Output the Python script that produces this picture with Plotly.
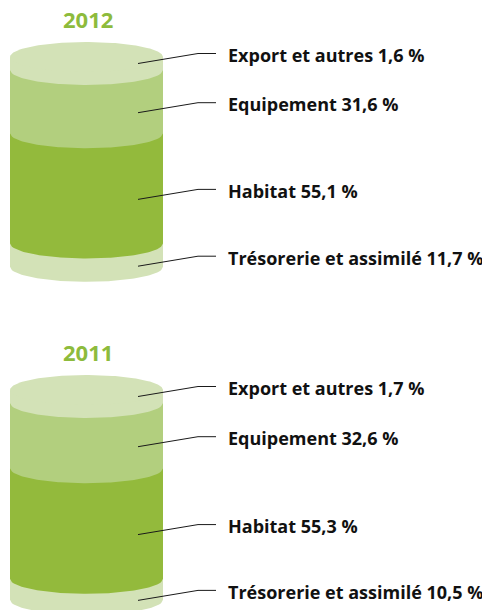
import numpy as np
import plotly.graph_objects as go

# ---------------- data ----------------
years = ["2012", "2011"]
categories = ["Trésorerie et assimilé", "Habitat", "Equipement", "Export et autres"]  # bottom -> top
values_2012 = [11.7, 55.1, 31.6, 1.6]
values_2011 = [10.5, 55.3, 32.6, 1.7]
series = [values_2012, values_2011]

colors = ["#d3e2b7", "#93ba3c", "#b2cf7e", "#d3e2b7"]
title_color = "#8dbb3c"

# ---------------- layout constants ----------------
W, H = 482, 610
PX_PER_UNIT = 2.0
MIN_SHOW = 6.5            # minimum displayed thickness for a very small segment
CX, RX = 86.5, 76.5       # cylinder centre / half width (x axis units = px)
RY = 7.5                  # ellipse half height (y units)
TOP_PX = [57, 390]        # pixel row of top edge of each cylinder side
LEADER_X0, ELBOW_X, LINE_END_X, TEXT_X = 138, 198, 216, 226

fig = go.Figure()


def front_arc(u, n=80, reverse=False):
    xs = np.linspace(CX - RX, CX + RX, n)
    t = (xs - CX) / RX
    ys = u - RY * np.sqrt(np.clip(1 - t ** 2, 0, 1))
    if reverse:
        return xs[::-1], ys[::-1]
    return xs, ys


annotations = []
for k, (year, vals) in enumerate(zip(years, series)):
    yref = "y" if k == 0 else "y2"
    shown = [max(v, MIN_SHOW) for v in vals]
    total = sum(shown)
    bounds = np.concatenate([[0], np.cumsum(shown)])
    n = len(vals)
    for i in range(n):
        u0, u1 = bounds[i], bounds[i + 1]
        ext = 0.6
        xa, ya = front_arc(u0)
        xb, yb = front_arc(u1 + ext, reverse=True)
        xs = np.concatenate([xa, xb, [xa[0]]])
        ys = np.concatenate([ya, yb, [ya[0]]])
        fig.add_trace(go.Scatter(x=xs, y=ys, mode="lines", fill="toself",
                                 fillcolor=colors[i], line=dict(width=0, color=colors[i]),
                                 hoverinfo="skip", showlegend=False, yaxis=yref))
    th = np.linspace(0, 2 * np.pi, 160)
    fig.add_trace(go.Scatter(x=CX + RX * np.cos(th), y=total + RY * np.sin(th),
                             mode="lines", fill="toself", fillcolor=colors[-1],
                             line=dict(width=0, color=colors[-1]),
                             hoverinfo="skip", showlegend=False, yaxis=yref))
    t = (LEADER_X0 - CX) / RX
    dy = RY * np.sqrt(1 - t ** 2)
    for i in range(n):
        u0, u1 = bounds[i], bounds[i + 1]
        lo = u0 - dy
        hi = u1 + dy if i == n - 1 else u1 - dy
        mid = (lo + hi) / 2
        elbow = mid + 5
        fig.add_trace(go.Scatter(x=[LEADER_X0, ELBOW_X, LINE_END_X], y=[mid, elbow, elbow],
                                 mode="lines", line=dict(color="#1a1a1a", width=1),
                                 hoverinfo="skip", showlegend=False, yaxis=yref))
        label = f"{categories[i]} {vals[i]:.1f}".replace(".", ",") + " %"
        annotations.append(dict(x=TEXT_X, y=elbow - 0.8, xref="x", yref=yref, text=label,
                                showarrow=False, xanchor="left", yanchor="middle",
                                font=dict(family="Open Sans", size=18, color="#111111", weight=700)))
    annotations.append(dict(x=CX + 1, y=total + 18.8, xref="x", yref=yref, text=year,
                            showarrow=False, xanchor="center", yanchor="middle",
                            font=dict(family="Open Sans", size=22, color=title_color, weight=700)))


def yrange(k, vals):
    total = sum(max(v, MIN_SHOW) for v in vals)
    top = TOP_PX[k]
    return [total - (H - top) / PX_PER_UNIT, total + top / PX_PER_UNIT]

axis_off = dict(visible=False, showgrid=False, zeroline=False, fixedrange=True)
fig.update_layout(
    width=W, height=H, margin=dict(l=0, r=0, t=0, b=0),
    paper_bgcolor="white", plot_bgcolor="white",
    xaxis=dict(range=[0, W], **axis_off),
    yaxis=dict(range=yrange(0, values_2012), domain=[0, 1], **axis_off),
    yaxis2=dict(range=yrange(1, values_2011), domain=[0, 1], overlaying="y", **axis_off),
    annotations=annotations,
    showlegend=False,
)

fig.write_html("out.html", config={"displayModeBar": False},
               post_script="document.body.style.margin='0';")
